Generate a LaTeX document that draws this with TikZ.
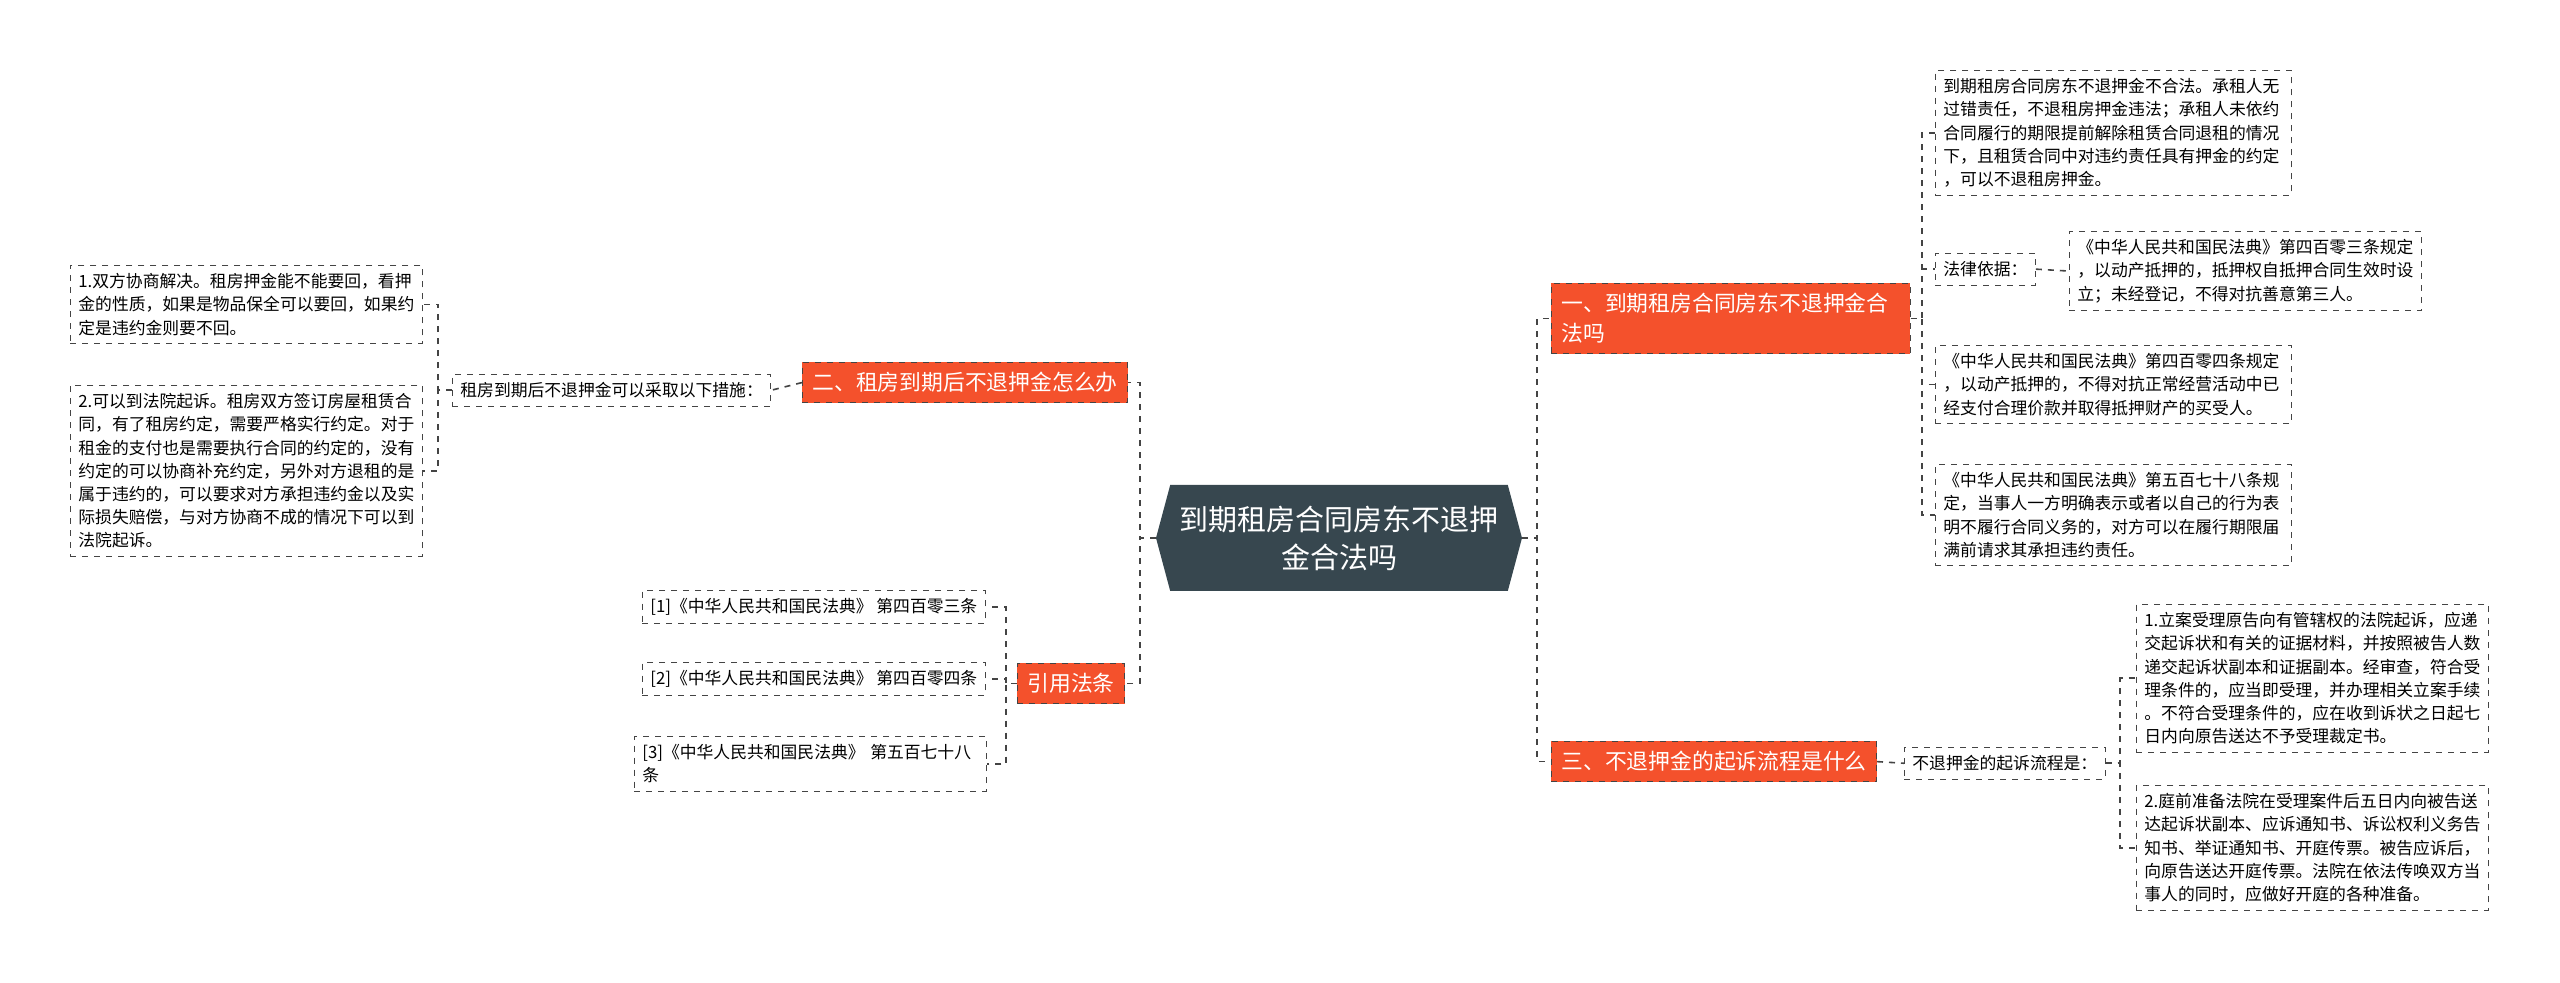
\documentclass[tikz,border=0pt]{standalone}
\usepackage{fontspec}
\setmainfont{Noto Sans CJK SC}
\usetikzlibrary{shapes.symbols}
\definecolor{hot}{HTML}{F4512C}
\definecolor{slate}{HTML}{37474F}
\definecolor{edge}{HTML}{444444}
\tikzset{
	leaf/.style={draw=edge,dashed,anchor=north west,align=left,inner xsep=4pt,inner ysep=4pt,font=\fontsize{8.4}{11.6}\selectfont},
	topic/.style={draw=edge,dashed,fill=hot,text=white,anchor=north west,align=left,inner xsep=5pt,inner ysep=5pt,font=\fontsize{10.9}{15}\selectfont},
	link/.style={draw=edge,dashed,thick}
}
\begin{document}
\begin{tikzpicture}[x=0.5pt,y=-0.5pt]
\useasboundingbox (0,0) rectangle (2560,983);

% centre
\node [signal,signal to=east and west,signal pointer angle=150,fill=slate,text=white,
	minimum width=183pt,minimum height=53pt,align=center,inner sep=2pt,
	font=\fontsize{14.5}{19}\selectfont] (root) at (1339,538) {到期租房合同房东不退押\\金合法吗};

% right, part one
\node [topic,text width=169.5pt] (one) at (1551,283) {一、到期租房合同房东不退押金合\\法吗};
\node [leaf,text width=170pt] (one-a) at (1935,70) {到期租房合同房东不退押金不合法。承租人无\\过错责任，不退租房押金违法；承租人未依约\\合同履行的期限提前解除租赁合同退租的情况\\下，且租赁合同中对违约责任具有押金的约定\\，可以不退租房押金。};
\node [leaf] (one-b) at (1935,253) {法律依据：};
\node [leaf,text width=168pt] (one-b1) at (2069,231) {《中华人民共和国民法典》第四百零三条规定\\，以动产抵押的，抵押权自抵押合同生效时设\\立；未经登记，不得对抗善意第三人。};
\node [leaf,text width=170pt] (one-c) at (1935,345) {《中华人民共和国民法典》第四百零四条规定\\，以动产抵押的，不得对抗正常经营活动中已\\经支付合理价款并取得抵押财产的买受人。};
\node [leaf,text width=170pt] (one-d) at (1935,464) {《中华人民共和国民法典》第五百七十八条规\\定，当事人一方明确表示或者以自己的行为表\\明不履行合同义务的，对方可以在履行期限届\\满前请求其承担违约责任。};

% right, part three
\node [topic] (three) at (1551,741) {三、不退押金的起诉流程是什么};
\node [leaf] (three-a) at (1904,747) {不退押金的起诉流程是：};
\node [leaf,text width=168pt] (three-a1) at (2136,604) {1.立案受理原告向有管辖权的法院起诉，应递\\交起诉状和有关的证据材料，并按照被告人数\\递交起诉状副本和证据副本。经审查，符合受\\理条件的，应当即受理，并办理相关立案手续\\。不符合受理条件的，应在收到诉状之日起七\\日内向原告送达不予受理裁定书。};
\node [leaf,text width=168pt] (three-a2) at (2136,785) {2.庭前准备法院在受理案件后五日内向被告送\\达起诉状副本、应诉通知书、诉讼权利义务告\\知书、举证通知书、开庭传票。被告应诉后，\\向原告送达开庭传票。法院在依法传唤双方当\\事人的同时，应做好开庭的各种准备。};

% left, part two
\node [topic] (two) at (802,362) {二、租房到期后不退押金怎么办};
\node [leaf] (two-a) at (452,374) {租房到期后不退押金可以采取以下措施：};
\node [leaf,text width=168pt] (two-a1) at (70,265) {1.双方协商解决。租房押金能不能要回，看押\\金的性质，如果是物品保全可以要回，如果约\\定是违约金则要不回。};
\node [leaf,text width=168pt] (two-a2) at (70,385) {2.可以到法院起诉。租房双方签订房屋租赁合\\同，有了租房约定，需要严格实行约定。对于\\租金的支付也是需要执行合同的约定的，没有\\约定的可以协商补充约定，另外对方退租的是\\属于违约的，可以要求对方承担违约金以及实\\际损失赔偿，与对方协商不成的情况下可以到\\法院起诉。};

% left, references
\node [topic] (refs) at (1017,663) {引用法条};
\node [leaf] (ref1) at (642,590) {[1]《中华人民共和国民法典》 第四百零三条};
\node [leaf] (ref2) at (642,662) {[2]《中华人民共和国民法典》 第四百零四条};
\node [leaf,text width=168pt] (ref3) at (634,736) {[3]《中华人民共和国民法典》 第五百七十八\\条};

% links
\foreach \n in {one,three} \draw [link] (root.east) -- (1537,538) |- (\n.west);
\foreach \n in {two,refs} \draw [link] (root.west) -- (1140,538) |- (\n.east);
\foreach \n in {one-a,one-b,one-c,one-d} \draw [link] (one.east) -- (1922,0|-one.east) |- (\n.west);
\draw [link] (one-b.east) -- (one-b1.west);
\draw [link] (three.east) -- (three-a.west);
\foreach \n in {three-a1,three-a2} \draw [link] (three-a.east) -- (2120,0|-three-a.east) |- (\n.west);
\draw [link] (two.west) -- (two-a.east);
\foreach \n in {two-a1,two-a2} \draw [link] (two-a.west) -- (438,0|-two-a.west) |- (\n.east);
\foreach \n in {ref1,ref2,ref3} \draw [link] (refs.west) -- (1006,0|-refs.west) |- (\n.east);

\end{tikzpicture}
\end{document}
